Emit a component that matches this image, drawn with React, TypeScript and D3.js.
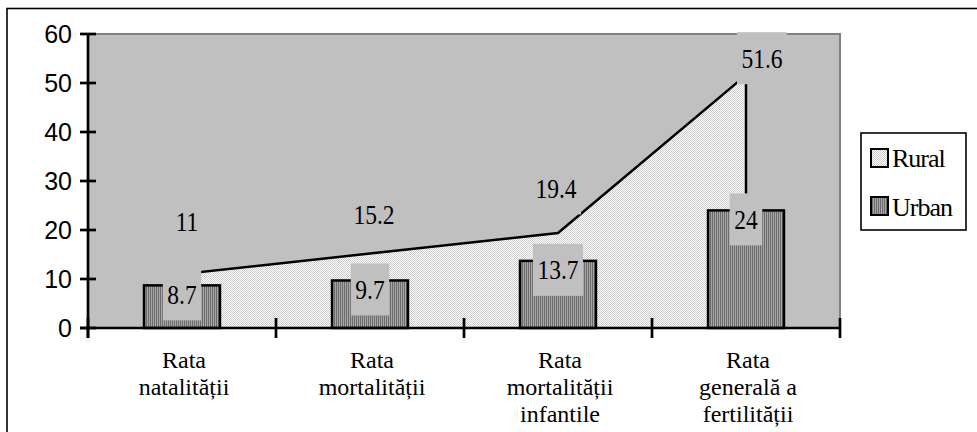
import React from "react";
import * as d3 from "d3";

const categories = [
  ["Rata", "natalității"],
  ["Rata", "mortalității"],
  ["Rata", "mortalității", "infantile"],
  ["Rata", "generală a", "fertilității"],
];
const categoryKeys = ["nat", "mort", "mortinf", "fert"];
const ruralValues = [11, 15.2, 19.4, 51.6];
const urbanValues = [8.7, 9.7, 13.7, 24];
const ruralLabels = ["11", "15.2", "19.4", "51.6"];
const urbanLabels = ["8.7", "9.7", "13.7", "24"];
const yTicks = [0, 10, 20, 30, 40, 50, 60];
const seriesNames = ["Rural", "Urban"];

// layout constants (not data)
const ruralLabelDx = [5, 4, -2, 16];
const ruralLabelDy = [-53, -39, -44.5, -17];

const W = 977;
const H = 432;
const plot = { left: 88, right: 840, top: 34, bottom: 328 };

const serif = "Liberation Serif";
const sans = "Liberation Sans";
const LABEL_FS = 27;
const LABEL_SX = 0.87;

function textW(s: string, fs: number) {
  let w = 0;
  for (const ch of s) w += ch === "." ? 0.25 : 0.5;
  return w * fs * LABEL_SX;
}

export default function App() {
  const x = d3
    .scaleBand<string>()
    .domain(categoryKeys)
    .range([plot.left, plot.right])
    .paddingInner(0)
    .paddingOuter(0);
  const y = d3.scaleLinear().domain([0, 60]).range([plot.bottom, plot.top]);
  const bw = x.bandwidth();
  const barW = bw * 0.404;
  const cx = (i: number) => (x(categoryKeys[i]) as number) + bw / 2;

  const pts: [number, number][] = ruralValues.map((v, i) => [cx(i), y(v)]);
  const areaGen = d3
    .area<[number, number]>()
    .x((d) => d[0])
    .y0(y(0))
    .y1((d) => d[1]);
  const lineGen = d3.line<[number, number]>();
  const lastP = pts[pts.length - 1];
  const firstP = pts[0];
  const outline: [number, number][] = [[firstP[0], y(0)], ...pts, [lastP[0], y(0)]];

  const boundaries = categoryKeys.map((k) => x(k) as number).concat([plot.right]);

  const labelBox = (cxp: number, cyp: number, txt: string, key: string) => {
    const tw = textW(txt, LABEL_FS);
    const bwid = tw + 9;
    return (
      <g key={key}>
        <rect x={cxp - bwid / 2} y={cyp - 26} width={bwid} height={52} fill="#c0c0c0" />
        <text
          transform={`translate(${cxp},${cyp + 9.5}) scale(${LABEL_SX},1)`}
          textAnchor="middle"
          fontFamily={serif}
          fontSize={LABEL_FS}
          style={{ fontFamily: serif, fontSize: LABEL_FS }}
        >
          {txt}
        </text>
      </g>
    );
  };

  return (
    <svg
      width={W}
      height={H}
      style={{ position: "absolute", left: 0, top: 0, background: "#fff" }}
    >
      <defs>
        <pattern id="dots" width={2} height={2} patternUnits="userSpaceOnUse">
          <rect width={2} height={2} fill="#fbfbfb" />
          <rect width={1} height={1} fill="#cfcfcf" />
          <rect x={1} y={1} width={1} height={1} fill="#cfcfcf" />
        </pattern>
        <pattern id="stripes" width={2} height={2} patternUnits="userSpaceOnUse">
          <rect width={2} height={2} fill="#a6a6a6" />
          <rect width={1} height={2} fill="#6c6c6c" />
        </pattern>
      </defs>

      {/* outer frame */}
      <rect x={7} y={8.5} width={1100} height={600} fill="none" stroke="#000" strokeWidth={1.6} />

      {/* plot area */}
      <rect
        x={plot.left}
        y={plot.top}
        width={plot.right - plot.left}
        height={plot.bottom - plot.top}
        fill="#c0c0c0"
        stroke="#808080"
        strokeWidth={2}
      />

      {/* rural area */}
      <path d={areaGen(pts) || ""} fill="url(#dots)" />
      <path d={lineGen(outline) || ""} fill="none" stroke="#000" strokeWidth={2.5} strokeLinejoin="miter" />

      {/* urban bars */}
      {urbanValues.map((v, i) => (
        <rect
          key={"b" + i}
          x={cx(i) - barW / 2}
          y={y(v)}
          width={barW}
          height={y(0) - y(v)}
          fill="url(#stripes)"
          stroke="#000"
          strokeWidth={2.5}
        />
      ))}

      {/* urban labels */}
      {urbanValues.map((v, i) => labelBox(cx(i), y(v) + 9, urbanLabels[i], "ul" + i))}

      {/* rural labels */}
      {ruralValues.map((v, i) =>
        labelBox(cx(i) + ruralLabelDx[i], y(v) + ruralLabelDy[i], ruralLabels[i], "rl" + i)
      )}

      {/* y axis */}
      <line x1={plot.left} x2={plot.left} y1={plot.top} y2={plot.bottom + 10} stroke="#000" strokeWidth={2.7} />
      {yTicks.map((t) => (
        <g key={"yt" + t}>
          <line x1={plot.left - 8} x2={plot.left + 8} y1={y(t)} y2={y(t)} stroke="#000" strokeWidth={2.7} />
          <text
            x={72}
            y={y(t) + 9}
            textAnchor="end"
            fontFamily={sans}
            fontSize={25}
            style={{ fontFamily: sans, fontSize: 25 }}
          >
            {t}
          </text>
        </g>
      ))}

      {/* x axis */}
      <line x1={plot.left - 8} x2={plot.right} y1={y(0)} y2={y(0)} stroke="#000" strokeWidth={2.7} />
      {boundaries.map((bx, i) => (
        <line key={"xt" + i} x1={bx} x2={bx} y1={y(0) - 10} y2={y(0) + 10} stroke="#000" strokeWidth={2.7} />
      ))}
      {categories.map((lines, i) => (
        <text
          key={"cl" + i}
          textAnchor="middle"
          fontFamily={serif}
          fontSize={24}
          style={{ fontFamily: serif, fontSize: 24 }}
        >
          {lines.map((ln, j) => (
            <tspan key={j} x={cx(i) + 2} y={368 + j * 27}>
              {ln}
            </tspan>
          ))}
        </text>
      ))}

      {/* legend */}
      <rect x={861} y={133} width={105} height={97} fill="#fff" stroke="#000" strokeWidth={1.6} />
      {seriesNames.map((name, i) => (
        <g key={"lg" + i}>
          <rect
            x={871}
            y={149 + i * 48}
            width={17}
            height={18}
            fill={i === 0 ? "url(#dots)" : "url(#stripes)"}
            stroke="#000"
            strokeWidth={2}
          />
          <text
            x={892}
            y={167 + i * 49}
            fontFamily={serif}
            fontSize={26}
            style={{ fontFamily: serif, fontSize: 26, letterSpacing: -1 }}
          >
            {name}
          </text>
        </g>
      ))}
    </svg>
  );
}
